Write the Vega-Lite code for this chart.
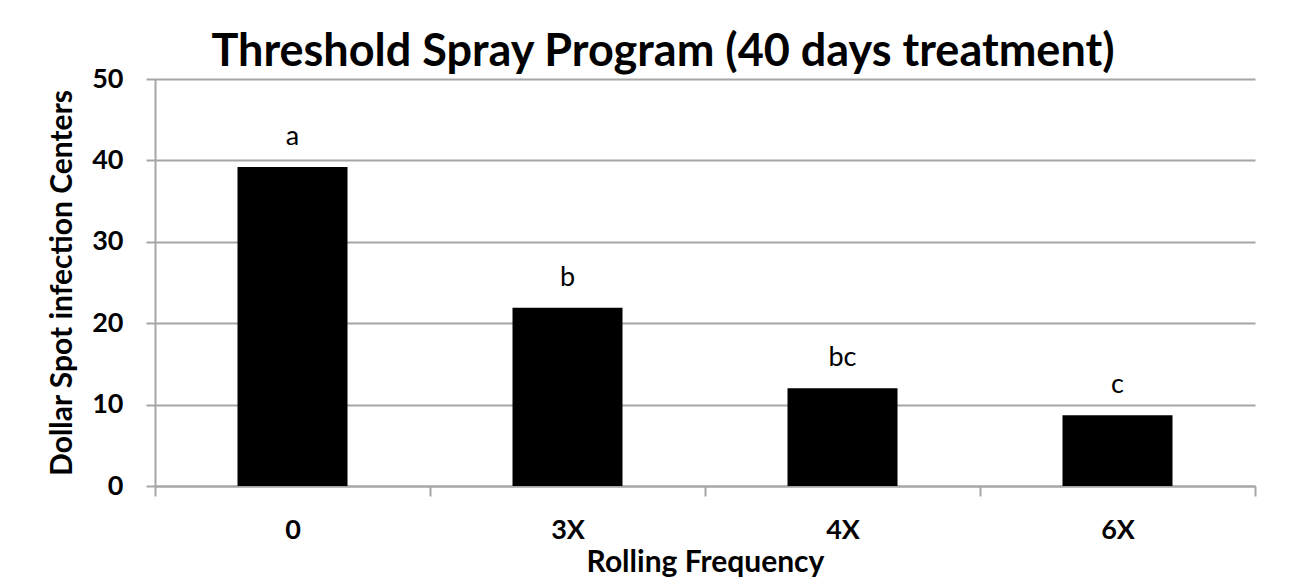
{
  "$schema": "https://vega.github.io/schema/vega-lite/v6.json",
  "autosize": {"type": "none"},
  "width": 1100,
  "height": 407,
  "padding": {"left": 155, "top": 79, "right": 34, "bottom": 93},
  "background": "white",
  "config": {
    "font": "Lato",
    "view": {"stroke": null}
  },
  "title": {
    "text": "Threshold Spray Program (40 days treatment)",
    "font": "Lato",
    "fontSize": 45,
    "fontWeight": "bold",
    "color": "black",
    "anchor": "middle",
    "dx": -42,
    "offset": -10
  },
  "data": {
    "values": [
      {"frequency": "0", "centers": 39.2, "letter": "a"},
      {"frequency": "3X", "centers": 21.9, "letter": "b"},
      {"frequency": "4X", "centers": 12.0, "letter": "bc"},
      {"frequency": "6X", "centers": 8.7, "letter": "c"}
    ]
  },
  "encoding": {
    "x": {
      "field": "frequency",
      "type": "nominal",
      "sort": null,
      "scale": {"paddingInner": 0, "paddingOuter": 0},
      "axis": {
        "title": "Rolling Frequency",
        "titleFont": "Lato",
        "titleFontSize": 30,
        "titleFontWeight": "bold",
        "titleColor": "black",
        "titlePadding": 4,
        "labelFont": "Lato",
        "labelFontSize": 27,
        "labelFontWeight": "bold",
        "labelColor": "black",
        "labelAngle": 0,
        "labelPadding": 21,
        "tickBand": "extent",
        "tickSize": 10,
        "tickColor": "#a6a6a6",
        "tickWidth": 2,
        "domainColor": "#a6a6a6",
        "domainWidth": 2,
        "grid": false
      }
    },
    "y": {
      "field": "centers",
      "type": "quantitative",
      "scale": {"domain": [0, 50]},
      "axis": {
        "title": "Dollar Spot infection Centers",
        "titleFont": "Lato",
        "titleFontSize": 30,
        "titleFontWeight": "bold",
        "titleColor": "black",
        "titlePadding": 14,
        "values": [0, 10, 20, 30, 40, 50],
        "labelFont": "Lato",
        "labelFontSize": 27,
        "labelFontWeight": "bold",
        "labelColor": "black",
        "labelPadding": 23,
        "tickSize": 9,
        "tickColor": "#a6a6a6",
        "tickWidth": 2,
        "domainColor": "#a6a6a6",
        "domainWidth": 2,
        "grid": true,
        "gridColor": "#a6a6a6",
        "gridWidth": 2
      }
    }
  },
  "layer": [
    {
      "mark": {"type": "bar", "color": "black", "width": {"band": 0.4}}
    },
    {
      "mark": {
        "type": "text",
        "font": "Lato",
        "fontSize": 27,
        "color": "black",
        "baseline": "alphabetic",
        "dy": -22
      },
      "encoding": {"text": {"field": "letter"}}
    }
  ]
}
